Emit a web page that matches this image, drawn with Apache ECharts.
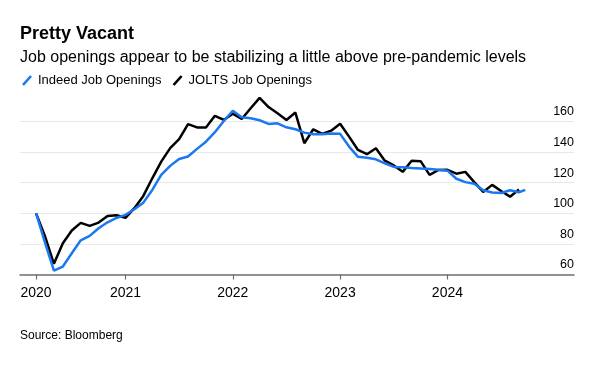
<!DOCTYPE html>
<html>
<head>
<meta charset="utf-8">
<script src="https://cdn.jsdelivr.net/npm/echarts@6/dist/echarts.min.js"></script>
<style>
html,body{margin:0;padding:0;background:#fff;}
#chart{width:604px;height:367px;}
</style>
</head>
<body>
<div id="chart"></div>
<script>
// Month offsets from Feb 2020 (index = months since Feb 2020)
const yearTickOffsets = [0, 10, 22, 34, 46];
const yearTickLabels = ['2020', '2021', '2022', '2023', '2024'];
const yTicks = [60, 80, 100, 120, 140, 160];

// JOLTS job openings, indexed (Feb 2020 = 100), monthly from Feb 2020
const joltsValues = [
  100, 85, 67, 80.4, 88.7, 93.7, 91.7, 93.9, 98.2, 98.7,
  97, 103.3, 111.3, 122.8, 133.7, 142.5, 148.3, 158.2, 156, 156,
  163.6, 160.9, 165, 161.5, 168.5, 175.3, 169.3, 165.3, 160.9, 165.7,
  145.7, 154.8, 151.8, 153.9, 158.4, 150, 141.3, 138.5, 142.4, 134.3,
  131.2, 127, 134.3, 134, 125, 128.2, 128.3, 125.8, 127, 120.3,
  113.9, 118.5, 114.5, 110.8, 115.5
];

// Indeed job postings index (Feb 2020 = 100), monthly from Feb 2020
const indeedValues = [
  100, 81, 62.5, 65.2, 73.9, 82.3, 85.2, 90.2, 94.1, 96.9,
  98.9, 102.6, 106.9, 115.2, 125, 130.9, 135.4, 137, 142, 146.7,
  152.9, 160.2, 166.9, 162.6, 162, 160.7, 158.3, 158.7, 156.1, 154.8,
  152.6, 151.6, 151.6, 152, 151.8, 143.5, 136.8, 136.2, 135.2, 132.6,
  130.2, 130, 129.5, 129.2, 128.9, 128.3, 127.8, 122.5, 120.3, 119.3,
  115, 113.5, 113.2, 115, 113.7, 115.2
];
// Indeed's last reading is a partial month
const indeedLastOffset = 54.7;

const joltsData = joltsValues.map((v, i) => [i, v]);
const indeedData = indeedValues.map((v, i) => [i === indeedValues.length - 1 ? indeedLastOffset : i, v]);

const FONT = '"Liberation Sans", Arial, Helvetica, sans-serif';
const BLUE = '#1a78f0';
const slashIcon = 'path://M0,9 L8,0 L10,1.6 L2,10.6 Z';

const chart = echarts.init(document.getElementById('chart'), null, {renderer: 'canvas'});
chart.setOption({
  animation: false,
  backgroundColor: '#ffffff',
  textStyle: {fontFamily: FONT},
  graphic: [
    {type: 'text', left: 20, top: 25, style: {text: 'Pretty Vacant', font: 'bold 18px ' + FONT, fill: '#000'}},
    {type: 'text', left: 20, top: 49.5, style: {text: 'Job openings appear to be stabilizing a little above pre-pandemic levels', font: '16px ' + FONT, fill: '#000'}},
    {type: 'text', left: 20, top: 330, style: {text: 'Source: Bloomberg', font: '12px ' + FONT, fill: '#000'}}
  ],
  legend: {
    left: 17, top: 69,
    itemWidth: 10, itemHeight: 11, itemGap: 11,
    data: [
      {name: 'Indeed Job Openings', icon: slashIcon},
      {name: 'JOLTS Job Openings', icon: slashIcon}
    ],
    textStyle: {fontSize: 13, fontFamily: FONT, color: '#000', padding: [0, 0, 0, 1]},
    selectedMode: false
  },
  grid: {left: 20, right: 30, top: 90.66, bottom: 92.5, containLabel: false, outerBoundsMode: 'none'},
  xAxis: {
    type: 'value',
    min: -1.79, max: 60.15,
    splitLine: {show: false},
    axisLine: {show: true, lineStyle: {color: '#6e6e6e', width: 1.5}},
    axisTick: {show: true, customValues: yearTickOffsets, length: 5, lineStyle: {color: '#6e6e6e', width: 1.2}},
    axisLabel: {
      customValues: yearTickOffsets,
      formatter: v => yearTickLabels[yearTickOffsets.indexOf(v)] || '',
      fontSize: 14, color: '#000', fontFamily: FONT, margin: 12
    }
  },
  yAxis: {
    type: 'value',
    position: 'right',
    min: 60, max: 180, interval: 20,
    axisLine: {show: false},
    axisTick: {show: false},
    splitLine: {show: true, showMinLine: false, showMaxLine: false, lineStyle: {color: '#e8e8e8', width: 1}},
    axisLabel: {
      inside: true, margin: 0, align: 'right', verticalAlign: 'bottom',
      padding: [0, 0, 3, 0],
      fontSize: 12.5, color: '#000', fontFamily: FONT,
      showMaxLabel: false,
      formatter: v => yTicks.indexOf(v) >= 0 ? String(v) : ''
    }
  },
  series: [
    {
      name: 'JOLTS Job Openings', type: 'line', data: joltsData, showSymbol: false, symbol: 'none',
      lineStyle: {color: '#000', width: 2.5}, itemStyle: {color: '#000'}, z: 2
    },
    {
      name: 'Indeed Job Openings', type: 'line', data: indeedData, showSymbol: false, symbol: 'none',
      lineStyle: {color: BLUE, width: 2.5}, itemStyle: {color: BLUE}, z: 3
    }
  ]
});
</script>
</body>
</html>
